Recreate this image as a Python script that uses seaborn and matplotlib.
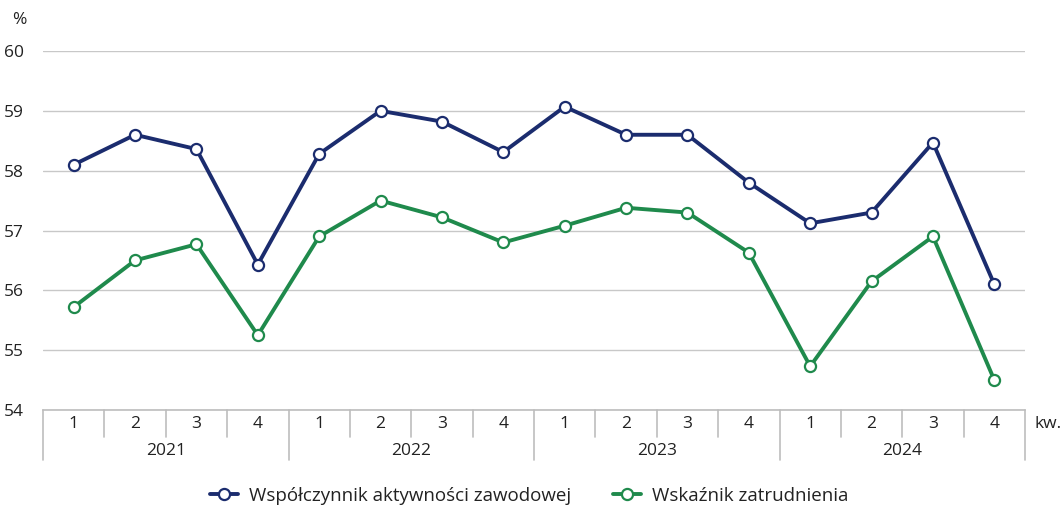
import matplotlib
matplotlib.use("Agg")
import matplotlib.pyplot as plt
import matplotlib.transforms as mtransforms
from matplotlib.lines import Line2D
import seaborn as sns
import pandas as pd

years = ["2021", "2022", "2023", "2024"]
quarters = ["1", "2", "3", "4"]
activity = [58.1, 58.6, 58.36, 56.43,
            58.28, 59.0, 58.82, 58.31,
            59.07, 58.6, 58.6, 57.8,
            57.12, 57.3, 58.47, 56.1]
employment = [55.72, 56.5, 56.77, 55.25,
              56.9, 57.5, 57.22, 56.8,
              57.08, 57.38, 57.3, 56.63,
              54.73, 56.15, 56.9, 54.5]
series_names = ["Współczynnik aktywności zawodowej", "Wskaźnik zatrudnienia"]
colors = ["#1b2c6e", "#1f8a4c"]

n = len(activity)
df = pd.DataFrame({
    "idx": list(range(n)) * 2,
    "value": activity + employment,
    "series": [series_names[0]] * n + [series_names[1]] * n,
})

sns.set_theme(style="white")
plt.rcParams["font.family"] = ["Open Sans", "DejaVu Sans"]

FS = 12.5
TXT = "#222222"

fig = plt.figure(figsize=(10.64, 5.12), dpi=100)
ax = fig.add_axes([43/1064, 1-410/512, (1025-43)/1064, (410-51)/512])

sns.lineplot(data=df, x="idx", y="value", hue="series", palette=colors,
             marker="o", markersize=8, markerfacecolor="white",
             markeredgewidth=1.6, linewidth=2.8, ax=ax, legend=False)
for line, c in zip(ax.lines, colors):
    line.set_markeredgecolor(c)

ax.set_xlim(-0.5, n - 0.5)
ax.set_ylim(54, 60)
ax.set_yticks(range(54, 61))
ax.set_yticklabels([str(v) for v in range(54, 61)], fontsize=FS, color=TXT)
ax.tick_params(axis="y", length=0, pad=14)
ax.yaxis.grid(True, color="#c8c8c8", linewidth=1)
ax.set_xticks([])
ax.set_xlabel("")
ax.set_ylabel("")
for s in ["top", "right", "left"]:
    ax.spines[s].set_visible(False)
ax.spines["bottom"].set_color("#bdbdbd")
ax.spines["bottom"].set_linewidth(1.2)

fig.text(12/1064, 1-20/512, "%", fontsize=FS, color=TXT, va="center", ha="left")

trans = mtransforms.blended_transform_factory(ax.transData, fig.transFigure)
def fy(p):
    return 1 - p/512

for i in range(n + 1):
    x = i - 0.5
    bottom = 460 if i % 4 == 0 else 437
    ax.plot([x, x], [fy(410), fy(bottom)], transform=trans, color="#bdbdbd",
            linewidth=1.2, clip_on=False)
for i in range(n):
    ax.text(i, fy(424), quarters[i % 4], transform=trans, ha="center", va="center",
            fontsize=FS, color=TXT)
for j, yr in enumerate(years):
    ax.text(j * 4 + 1.5, fy(451), yr, transform=trans, ha="center", va="center",
            fontsize=FS, color=TXT)
fig.text(1034/1064, fy(424), "kw.", fontsize=FS, color=TXT, va="center", ha="left")

handles = [Line2D([0], [0], color=c, linewidth=2.8, marker="o", markersize=8,
                  markerfacecolor="white", markeredgecolor=c, markeredgewidth=1.6)
           for c in colors]
fig.legend(handles, series_names, loc="center", bbox_to_anchor=(529/1064, fy(496)),
           ncol=2, frameon=False, fontsize=13.5, handlelength=1.5, columnspacing=2.2,
           handletextpad=0.6, labelcolor=TXT)

fig.savefig("out.png", dpi=100, facecolor="white")
